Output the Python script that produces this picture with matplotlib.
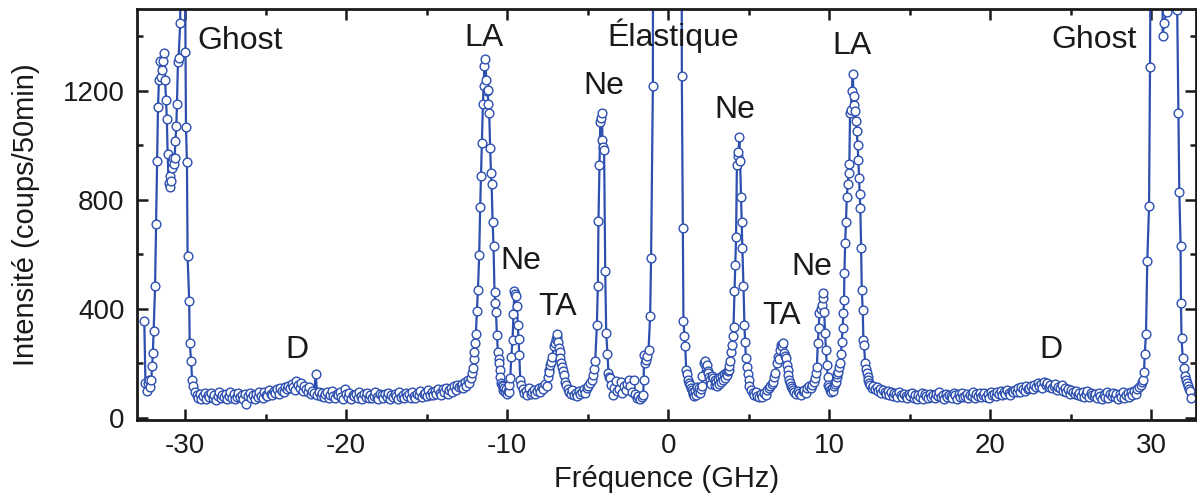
import numpy as np
import matplotlib
matplotlib.use("Agg")
import matplotlib.pyplot as plt
from matplotlib.ticker import MultipleLocator

plt.rcParams["font.family"] = ["Liberation Sans", "DejaVu Sans"]
plt.rcParams["axes.unicode_minus"] = False

COLOR_LINE = "#2c4fb0"

# ---- data: Brillouin spectrum ----
# left ghost peak (explicit points)
ghost_l_f = [-32.55, -32.48, -32.40, -32.33, -32.25, -32.18, -32.12, -32.06, -32.02, -31.97,
             -31.88, -31.82, -31.76, -31.70, -31.64, -31.58, -31.52, -31.45, -31.38, -31.32,
             -31.26, -31.20, -31.15, -31.10, -31.04, -30.98, -30.93, -30.87, -30.83, -30.79,
             -30.72, -30.66, -30.62, -30.56, -30.52, -30.46, -30.42, -30.32, -30.20, -30.08,
             -29.99, -29.96, -29.90, -29.86, -29.76, -29.73, -29.64, -29.58]
ghost_l_i = [356, 127, 100, 128, 140, 112, 138, 191, 237, 319,
             484, 711, 944, 1139, 1238, 1311, 1250, 1275, 1310, 1338,
             1240, 1167, 1097, 969, 861, 847, 886, 870, 916, 953,
             930, 955, 1014, 1072, 1152, 1305, 1320, 1448, 3200, 2800,
             1344, 1067, 937, 592, 429, 276, 209, 139]

# baseline -29.5 .. -13.0 GHz, 0.1 GHz sampling
base1_range = (-29.5, -13.0)
base1_i = [118, 95, 82, 74, 88, 70, 79, 92, 68, 84,
           76, 90, 72, 85, 66, 80, 94, 71, 83, 77,
           88, 69, 81, 95, 73, 86, 70, 78, 91, 75,
           82, 68, 87, 50, 79, 92, 74, 84, 70, 89,
           77, 93, 81, 72, 96, 85, 79, 101, 88, 83,
           97, 90, 105, 86, 110, 99, 93, 114, 104, 118,
           108, 125, 113, 102, 135, 119, 110, 128, 98, 116,
           104, 95, 112, 88, 99, 92, 160, 84, 96, 79,
           90, 76, 86, 93, 72, 84, 98, 80, 74, 88,
           82, 95, 78, 70, 104, 86, 76, 91, 68, 83,
           79, 88, 72, 94, 81, 70, 86, 77, 92, 74,
           85, 71, 80, 93, 76, 68, 89, 82, 73, 87,
           78, 92, 70, 84, 75, 88, 81, 69, 94, 77,
           83, 72, 90, 79, 86, 74, 96, 80, 71, 89,
           84, 97, 76, 88, 92, 79, 101, 85, 94, 82,
           98, 87, 104, 91, 83, 106, 95, 110, 89, 102,
           108, 96, 115, 103, 120, 112]

# LA (anti-Stokes) + Ne line
la_l_f = [-12.90, -12.80, -12.72, -12.63, -12.55, -12.45, -12.35, -12.26, -12.20, -12.15,
          -12.09, -12.05, -11.99, -11.95, -11.88, -11.82, -11.74, -11.68, -11.63, -11.57,
          -11.51, -11.47, -11.42, -11.37, -11.30, -11.26, -11.22, -11.17, -11.12, -11.06,
          -11.01, -10.97, -10.91, -10.85, -10.79, -10.74, -10.70, -10.64, -10.58, -10.54,
          -10.50, -10.47, -10.43, -10.39, -10.34, -10.29, -10.24, -10.19, -10.13, -10.07,
          -10.02, -9.97, -9.92, -9.86, -9.81, -9.75, -9.67, -9.61, -9.55, -9.50,
          -9.44, -9.40, -9.34, -9.29, -9.25, -9.19, -9.13]
la_l_i = [118, 125, 108, 132, 118, 140, 128, 145, 165, 182,
          215, 243, 275, 307, 393, 470, 598, 775, 886, 1008,
          1151, 1216, 1290, 1316, 1240, 1200, 1204, 1150, 1120, 990,
          900, 859, 720, 629, 460, 420, 388, 305, 243, 215,
          203, 174, 150, 127, 120, 115, 102, 109, 95, 104,
          88, 100, 93, 120, 146, 223, 284, 382, 466, 455,
          448, 411, 341, 290, 231, 139, 121]

base2_range = (-9.05, -7.55)
base2_i = [105, 92, 98, 84, 110, 88, 95, 102, 86, 97, 108, 93, 112, 104, 125, 118]

ta_l_f = [-7.48, -7.43, -7.38, -7.33, -7.26, -7.19, -7.12, -7.06, -6.98, -6.91,
          -6.88, -6.83, -6.79, -6.75, -6.71, -6.65, -6.60, -6.55, -6.50, -6.44]
ta_l_i = [150, 176, 170, 194, 205, 225, 262, 274, 290, 298,
          308, 280, 256, 240, 219, 200, 188, 172, 158, 133]

base3_range = (-6.35, -4.75)
base3_i = [120, 105, 96, 88, 102, 84, 92, 80, 98, 86, 95, 104, 90, 108, 115, 128, 140]

ne_l_f = [-4.64, -4.58, -4.53, -4.43, -4.37, -4.33, -4.27, -4.22, -4.17, -4.12,
          -4.08, -4.03, -3.98, -3.91, -3.85, -3.77, -3.71, -3.65, -3.60]
ne_l_i = [158, 180, 209, 339, 482, 723, 928, 1084, 1100, 1120,
          1018, 995, 981, 537, 313, 234, 164, 150, 146]

base4_range = (-3.55, -1.55)
base4_i = [120, 84, 110, 135, 98, 105, 130, 92, 115, 102, 125, 140, 118, 96, 139, 88, 73, 80, 68, 76, 84]

# elastic line (top is far off scale) and Stokes side up to Ne
elast_f = [-1.52, -1.50, -1.42, -1.37, -1.30, -1.22, -1.12, -1.06, -0.95, -0.80,
           -0.60, -0.40, -0.20, 0.00, 0.20, 0.40, 0.60, 0.75, 0.85, 0.91,
           0.95, 1.01, 1.06, 1.12, 1.18, 1.26, 1.32, 1.37, 1.42, 1.47,
           1.52, 1.57, 1.62, 1.68, 1.73, 1.78, 1.84, 1.90, 1.95, 2.02,
           2.09, 2.13, 2.20, 2.30, 2.35, 2.40, 2.45, 2.50, 2.56, 2.62,
           2.68, 2.75, 2.81, 2.88, 2.93, 2.98, 3.05, 3.10, 3.16, 3.22,
           3.28, 3.33, 3.40, 3.46, 3.52, 3.58, 3.64, 3.70, 3.75, 3.80,
           3.85, 3.90, 3.96, 4.01, 4.06, 4.12, 4.17, 4.22, 4.27, 4.32,
           4.37, 4.43, 4.47, 4.53, 4.57, 4.61, 4.68, 4.74, 4.78, 4.83,
           4.89, 4.95, 5.00]
elast_i = [139, 231, 200, 212, 228, 250, 372, 588, 1218, 9000,
           30000, 55000, 70000, 72000, 65000, 45000, 20000, 7000, 1255, 698,
           357, 300, 264, 176, 160, 139, 128, 121, 110, 103,
           88, 93, 80, 98, 85, 113, 96, 108, 90, 105,
           115, 152, 200, 209, 185, 194, 172, 166, 150, 140,
           125, 155, 146, 120, 138, 133, 118, 142, 125, 148,
           130, 152, 140, 160, 145, 165, 158, 172, 176, 190,
           210, 240, 268, 300, 335, 464, 560, 663, 926, 960,
           977, 1030, 944, 812, 720, 623, 482, 341, 280, 219,
           188, 160, 140]

base5_range = (5.05, 6.25)
base5_i = [118, 103, 92, 84, 96, 80, 78, 88, 76, 92, 85, 103, 110]

ta_r_f = [6.34, 6.44, 6.54, 6.60, 6.65, 6.75, 6.81, 6.88, 6.96, 7.02,
          7.08, 7.16, 7.22, 7.28, 7.33, 7.37, 7.42, 7.47, 7.52, 7.58,
          7.65, 7.72, 7.78]
ta_r_i = [115, 125, 133, 150, 164, 201, 225, 215, 250, 268,
          262, 274, 237, 228, 219, 194, 175, 158, 140, 127,
          115, 108, 103]

base6_range = (7.85, 9.05)
base6_i = [95, 88, 100, 92, 84, 97, 103, 90, 110, 115, 108, 121, 130]

la_r_f = [9.13, 9.20, 9.24, 9.30, 9.35, 9.40, 9.47, 9.55, 9.60, 9.65,
          9.69, 9.75, 9.80, 9.86, 9.91, 9.96, 10.01, 10.06, 10.12, 10.18,
          10.24, 10.30, 10.35, 10.40, 10.47, 10.52, 10.58, 10.63, 10.68, 10.74,
          10.79, 10.84, 10.89, 10.93, 10.95, 11.00, 11.05, 11.10, 11.16, 11.21,
          11.26, 11.30, 11.35, 11.41, 11.47, 11.52, 11.55, 11.61, 11.67, 11.72,
          11.77, 11.82, 11.86, 11.90, 11.94, 11.99, 12.03, 12.09, 12.13, 12.17,
          12.24, 12.29, 12.34, 12.39, 12.44, 12.50]
la_r_i = [146, 165, 188, 276, 330, 384, 400, 415, 440, 457,
          390, 313, 250, 194, 150, 121, 112, 103, 95, 108,
          100, 118, 125, 133, 150, 160, 170, 185, 203, 235,
          280, 330, 384, 433, 533, 643, 720, 812, 859, 900,
          932, 1118, 1130, 1200, 1262, 1180, 1149, 1124, 1090, 1051,
          1000, 947, 880, 820, 770, 623, 470, 396, 286, 268,
          201, 180, 164, 150, 139, 128]

base7_range = (12.55, 29.25)
base7_i = [122, 110, 118, 104, 112, 98, 107, 92, 101, 95,
           88, 99, 84, 93, 80, 90, 86, 78, 94, 83,
           76, 89, 81, 72, 87, 79, 92, 74, 85, 70,
           83, 77, 91, 69, 86, 80, 73, 88, 78, 84,
           71, 86, 79, 93, 75, 82, 68, 89, 77, 85,
           80, 74, 90, 83, 70, 87, 78, 92, 76, 81,
           88, 73, 84, 79, 95, 72, 86, 81, 90, 77,
           84, 92, 78, 87, 74, 96, 83, 89, 80, 93,
           86, 99, 82, 94, 88, 103, 91, 85, 98, 94,
           102, 96, 108, 93, 112, 104, 98, 115, 107, 110,
           118, 105, 122, 113, 128, 116, 124, 110, 130, 119,
           126, 112, 121, 108, 117, 124, 103, 114, 109, 120,
           98, 110, 94, 105, 89, 101, 96, 86, 99, 83,
           92, 80, 95, 78, 88, 97, 75, 90, 84, 79,
           86, 73, 91, 81, 69, 85, 77, 94, 72, 88,
           80, 92, 75, 86, 70, 89, 78, 95, 74, 83,
           90, 77, 96, 82, 100, 88, 105, 112]

ghost_r_f = [29.36, 29.42, 29.48, 29.57, 29.61, 29.69, 29.77, 29.88, 29.94, 30.10,
             30.35, 30.60, 30.73, 30.81, 30.97, 31.20, 31.45, 31.63, 31.70, 31.76,
             31.84, 31.86, 31.90, 31.97, 32.05, 32.11, 32.16, 32.22, 32.30, 32.36,
             32.42, 32.50]
ghost_r_i = [121, 130, 139, 168, 235, 307, 577, 776, 1287, 3500,
             3800, 3000, 1402, 1448, 1489, 3200, 3000, 1497, 1120, 830,
             632, 421, 292, 221, 182, 152, 140, 127, 115, 105,
             97, 72]

labels = [("Ghost", -26.58, 1383), ("LA", -11.43, 1394), ("Élastique", 0.31, 1402),
          ("Ne", -3.98, 1218), ("Ne", -9.13, 576), ("TA", -6.89, 407), ("D", -23.04, 250),
          ("Ne", 4.16, 1130), ("TA", 7.02, 374), ("Ne", 8.94, 554), ("LA", 11.43, 1365),
          ("D", 23.79, 250), ("Ghost", 26.46, 1387)]


def grid(rng, vals):
    return np.linspace(rng[0], rng[1], len(vals))


freq = np.concatenate([
    ghost_l_f, grid(base1_range, base1_i), la_l_f, grid(base2_range, base2_i), ta_l_f,
    grid(base3_range, base3_i), ne_l_f, grid(base4_range, base4_i), elast_f,
    grid(base5_range, base5_i), ta_r_f, grid(base6_range, base6_i), la_r_f,
    grid(base7_range, base7_i), ghost_r_f])
inten = np.concatenate([
    ghost_l_i, base1_i, la_l_i, base2_i, ta_l_i, base3_i, ne_l_i, base4_i, elast_i,
    base5_i, ta_r_i, base6_i, la_r_i, base7_i, ghost_r_i])

fig = plt.figure(figsize=(11.97, 4.98), dpi=100)
ax = fig.add_axes([0.1145, 0.1566, 0.8847, 0.8253])

ax.plot(freq, inten, color=COLOR_LINE, linewidth=1.6, marker="o", markersize=6.3,
        markerfacecolor="white", markeredgecolor=COLOR_LINE, markeredgewidth=1.0)

for txt, x, y in labels:
    ax.text(x, y, txt, ha="center", va="center", fontsize=23, color="#1a1a1a")

ax.set_xlim(-33, 32.8)
ax.set_ylim(-8, 1500)
ax.xaxis.set_major_locator(MultipleLocator(10))
ax.xaxis.set_minor_locator(MultipleLocator(5))
ax.set_yticks([0, 400, 800, 1200])
ax.yaxis.set_minor_locator(MultipleLocator(200))
ax.tick_params(which="both", direction="in", top=True, right=True, width=1.8,
               labelsize=20, colors="#1a1a1a")
ax.tick_params(which="major", length=8, pad=9)
ax.tick_params(which="minor", length=4)
for s in ax.spines.values():
    s.set_linewidth(2.0)
    s.set_color("#1a1a1a")

ax.set_xlabel("Fréquence (GHz)", fontsize=21, color="#1a1a1a", labelpad=5)
ax.set_ylabel("Intensité (coups/50min)", fontsize=21, color="#1a1a1a", labelpad=16)

fig.savefig("out.png", dpi=100)
